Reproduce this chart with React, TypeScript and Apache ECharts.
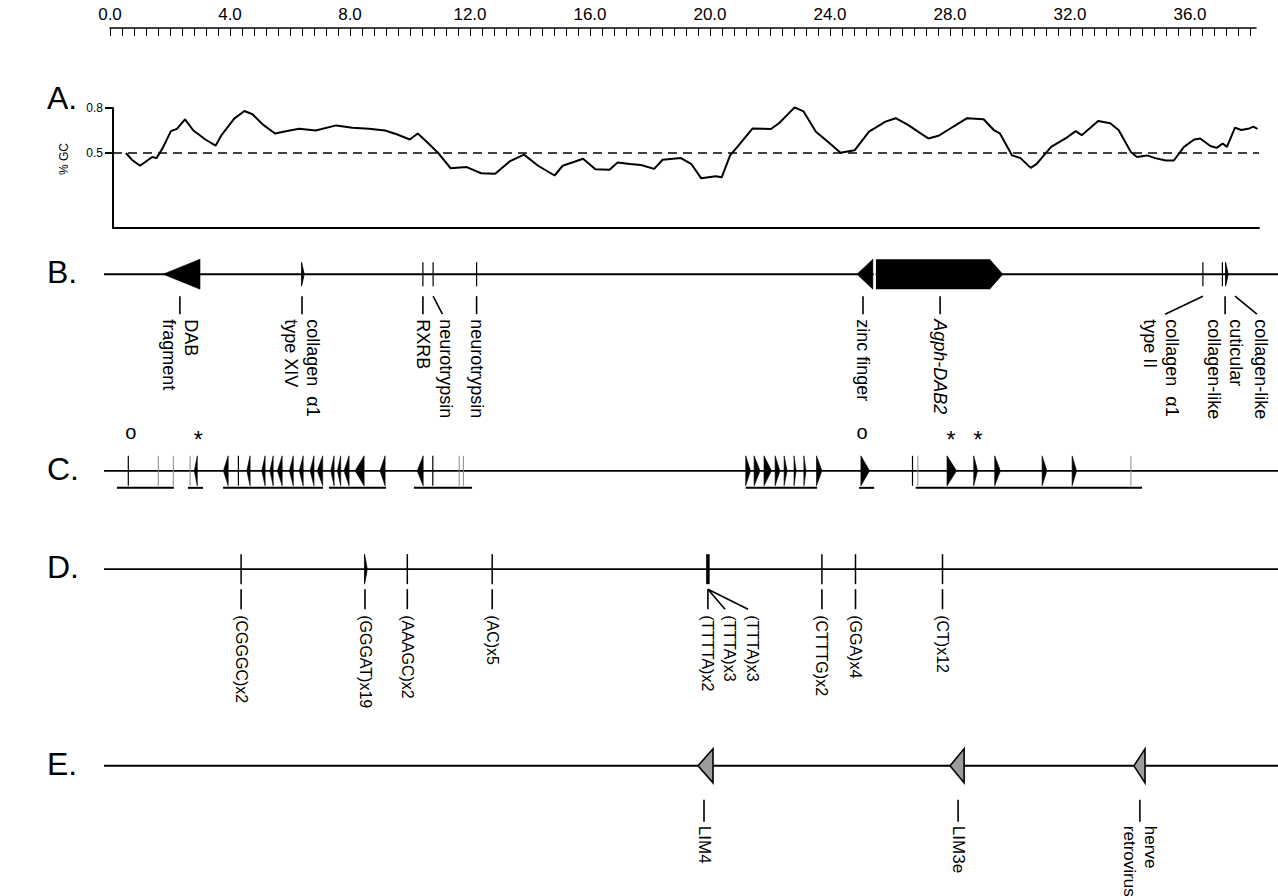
import React, { useEffect, useRef } from "react";
import * as echarts from "echarts";

const FONT = '"Liberation Sans", Arial, Helvetica, sans-serif';

// ---------- ruler (kb) ----------
const rulerLabels = [0, 4, 8, 12, 16, 20, 24, 28, 32, 36];
const rulerStep = 0.4;
const rulerMax = 38.2;

// ---------- Panel A: %GC ----------
const gcKb = [0.53, 0.73, 1.0, 1.28, 1.41, 1.55, 1.76, 2.03, 2.23, 2.5, 2.78, 3.18, 3.52, 3.73, 4.14, 4.48, 4.75, 5.09, 5.5, 5.9, 6.31, 6.86, 7.54, 8.08, 8.63, 9.17, 9.58, 9.99, 10.26, 10.6, 10.94, 11.35, 11.89, 12.37, 12.84, 13.32, 13.8, 14.27, 14.82, 15.09, 15.77, 16.18, 16.65, 16.92, 17.33, 17.7, 18.14, 18.42, 19.03, 19.37, 19.71, 20.19, 20.39, 20.67, 20.94, 21.42, 22.03, 22.3, 22.82, 23.12, 23.53, 23.94, 24.35, 24.82, 25.3, 25.85, 26.19, 26.6, 27.07, 27.28, 27.62, 28.57, 29.12, 29.46, 29.66, 30.07, 30.35, 30.69, 30.89, 31.37, 31.85, 32.19, 32.39, 32.94, 33.34, 33.62, 34.03, 34.23, 34.57, 34.84, 35.19, 35.46, 35.8, 36.14, 36.34, 36.68, 36.89, 37.09, 37.23, 37.5, 37.71, 37.98, 38.12, 38.25];
const gcValue = [0.5, 0.455, 0.415, 0.455, 0.473, 0.466, 0.534, 0.646, 0.661, 0.724, 0.65, 0.59, 0.549, 0.623, 0.729, 0.78, 0.758, 0.691, 0.63, 0.646, 0.661, 0.65, 0.684, 0.668, 0.661, 0.65, 0.623, 0.59, 0.63, 0.567, 0.5, 0.399, 0.406, 0.365, 0.361, 0.444, 0.489, 0.415, 0.35, 0.415, 0.462, 0.392, 0.388, 0.437, 0.426, 0.42, 0.394, 0.455, 0.466, 0.428, 0.331, 0.345, 0.338, 0.484, 0.547, 0.664, 0.66, 0.698, 0.804, 0.777, 0.642, 0.574, 0.502, 0.518, 0.642, 0.709, 0.732, 0.687, 0.624, 0.597, 0.615, 0.732, 0.725, 0.653, 0.631, 0.484, 0.466, 0.401, 0.428, 0.541, 0.597, 0.646, 0.619, 0.714, 0.698, 0.653, 0.507, 0.473, 0.484, 0.466, 0.45, 0.45, 0.541, 0.59, 0.597, 0.547, 0.534, 0.563, 0.541, 0.669, 0.653, 0.664, 0.676, 0.66];
const gcTickValues = [0.5, 0.8];
const gcThreshold = 0.5;

// ---------- tracks ----------
const trackNames = ["B.", "C.", "D.", "E."];
const trackLevels = [0, 2, 3, 5];
const trackSpan = [-0.2, 38.95];

// Panel B: genes / homologies  [start, end, strand]
const bArrows = [[1.77, 3.0, -1], [24.9, 25.43, -1]];
const bBlocks = [[25.53, 29.33, 29.77]];
const bTicks = [10.43, 10.77, 12.22, 36.43, 37.08];
const bLens = [6.4, 37.2];
const bLabels = [
  { at: 2.33, text: "DAB\nfragment" },
  { at: 6.4, text: "collagen  \u03b11\ntype XIV" },
  { at: 10.43, text: "RXRB" },
  { at: 10.77, to: 11.08, text: "neurotrypsin" },
  { at: 12.22, text: "neurotrypsin" },
  { at: 25.1, text: "zinc finger" },
  { at: 27.67, text: "Agph-DAB2", italic: true },
  { at: 36.43, to: 35.17, text: "collagen  \u03b11\ntype II" },
  { at: 37.17, text: "cuticular\ncollagen-like" },
  { at: 37.5, to: 38.23, text: "collagen-like" },
];

// Panel C: repeat units
const cArrows = [
  [2.81, 2.91, -1], [3.78, 3.94, -1], [4.56, 4.67, -1], [5.06, 5.17, -1], [5.33, 5.44, -1], [5.58, 5.74, -1],
  [5.98, 6.11, -1], [6.31, 6.44, -1], [6.67, 6.8, -1], [6.91, 7.09, -1], [7.36, 7.47, -1], [7.58, 7.69, -1],
  [7.8, 7.97, -1], [8.17, 8.47, -1], [9.0, 9.17, -1], [10.24, 10.44, -1],
  [21.19, 21.35, 1], [21.47, 21.67, 1], [21.8, 22.05, 1], [22.17, 22.33, 1], [22.47, 22.57, 1], [22.8, 22.87, 1],
  [23.13, 23.2, 1], [23.55, 23.73, 1], [25.03, 25.32, 1], [27.9, 28.22, 1], [28.79, 28.92, 1], [29.49, 29.68, 1],
  [31.07, 31.23, 1], [32.07, 32.22, 1],
];
const cTicks = [0.61, 4.28, 10.76, 26.75];
const cFaintTicks = [1.61, 2.11, 2.67, 11.64, 11.78, 26.93, 34.03];
const cSpans = [[0.23, 2.13], [2.6, 3.1], [3.77, 7.1], [7.3, 9.2], [10.13, 12.07], [21.19, 23.57], [24.97, 25.47], [26.86, 34.4]];
const cMarkers = [[0.69, "o"], [2.94, "*"], [25.07, "o"], [28.03, "*"], [28.93, "*"]];

// Panel D: simple sequence repeats
const dTicks = [4.37, 9.91, 12.74, 23.73, 24.85, 27.75];
const dBoldTicks = [19.93];
const dLens = [8.5];
const dLabels = [
  { at: 4.37, text: "(CGGGC)x2" },
  { at: 8.5, text: "(GGGAT)x19" },
  { at: 9.91, text: "(AAAGC)x2" },
  { at: 12.74, text: "(AC)x5" },
  { at: 19.93, text: "(TTTTA)x2" },
  { at: 19.93, to: 20.5, text: "(TTTA)x3" },
  { at: 19.93, to: 21.27, text: "(TTTA)x3" },
  { at: 23.73, text: "(CTTTG)x2" },
  { at: 24.85, text: "(GGA)x4" },
  { at: 27.75, text: "(CT)x12" },
];

// Panel E: interspersed repeats
const eArrows = [[19.6, 20.1, -1], [28.0, 28.47, -1], [34.13, 34.5, -1]];
const eLabels = [
  { at: 19.8, text: "LIM4" },
  { at: 28.27, text: "LIM3e" },
  { at: 34.33, text: "herve\nretrovirus" },
];

// ---------- styling per track (pixels) ----------
const geom = [
  { h: 15, tickH: 12, l1: 22, l2: 40, t: 45, font: 18, lh: 22 },
  { h: 15, tickH: 15 },
  { h: 15, tickH: 15, l1: 20, l2: 40, t: 46, font: 16, lh: 19 },
  { h: 17, tickH: 15, l1: 34, l2: 56, t: 60, font: 17, lh: 21 },
];

export default function App() {
  const ref = useRef<HTMLDivElement>(null);
  useEffect(() => {
    if (!ref.current) return;
    const chart = echarts.init(ref.current, null, { renderer: "svg" });

    const arrows: any[] = [];
    bArrows.forEach((a) => arrows.push({ track: 0, start: a[0], end: a[1], dir: a[2] }));
    cArrows.forEach((a) => arrows.push({ track: 1, start: a[0], end: a[1], dir: a[2] }));
    eArrows.forEach((a) => arrows.push({ track: 3, start: a[0], end: a[1], dir: a[2] }));

    const ticks: any[] = [];
    bTicks.forEach((v) => ticks.push({ track: 0, at: v, w: 1.2, c: "#000" }));
    cTicks.forEach((v) => ticks.push({ track: 1, at: v, w: 1.2, c: "#000" }));
    cFaintTicks.forEach((v) => ticks.push({ track: 1, at: v, w: 1, c: "#8a8a8a" }));
    dTicks.forEach((v) => ticks.push({ track: 2, at: v, w: 1.5, c: "#000" }));
    dBoldTicks.forEach((v) => ticks.push({ track: 2, at: v, w: 3.5, c: "#000" }));

    const lens: any[] = [];
    bLens.forEach((v) => lens.push({ track: 0, at: v }));
    dLens.forEach((v) => lens.push({ track: 2, at: v }));

    const labels: any[] = [];
    bLabels.forEach((l) => labels.push({ track: 0, ...l }));
    dLabels.forEach((l) => labels.push({ track: 2, ...l }));
    eLabels.forEach((l) => labels.push({ track: 3, ...l }));

    const tickValues: number[] = [];
    for (let i = 0; i * rulerStep <= rulerMax - 0.1; i++) tickValues.push(+(i * rulerStep).toFixed(1));

    const common = { coordinateSystem: "cartesian2d", xAxisIndex: 2, yAxisIndex: 2, clip: false, silent: true };

    chart.setOption({
      animation: false,
      backgroundColor: "#fff",
      textStyle: { fontFamily: FONT },
      grid: [
        { left: 110, top: 27, width: 30 * rulerMax, height: 1 },
        { left: 113, top: 108, width: 30 * (38.3 - 0.1), height: 120 },
        { left: 110, top: 225, width: 30 * rulerMax, height: 590 },
      ],
      xAxis: [
        {
          gridIndex: 0, type: "value", position: "top", min: 0, max: rulerMax,
          axisLine: { show: true, lineStyle: { color: "#000", width: 1.5 } },
          axisTick: { show: true, inside: true, length: 8, lineStyle: { color: "#000", width: 1 }, customValues: tickValues },
          axisLabel: { show: true, customValues: rulerLabels, formatter: (v: number) => v.toFixed(1), color: "#000", fontSize: 17, fontFamily: FONT, margin: 4 },
          splitLine: { show: false },
        },
        {
          gridIndex: 1, type: "value", min: 0.1, max: 38.3, position: "bottom",
          axisLine: { show: true, onZero: false, lineStyle: { color: "#000", width: 2 } },
          axisTick: { show: false }, axisLabel: { show: false }, splitLine: { show: false },
        },
        { gridIndex: 2, type: "value", min: 0, max: rulerMax, show: false },
      ],
      yAxis: [
        { gridIndex: 0, type: "value", show: false },
        {
          gridIndex: 1, type: "value", min: 0, max: 0.8,
          axisLine: { show: true, lineStyle: { color: "#000", width: 2 } },
          axisTick: { show: true, length: 8, customValues: gcTickValues, lineStyle: { color: "#000", width: 2 } },
          axisLabel: { show: true, customValues: gcTickValues, formatter: (v: number) => v.toFixed(1), color: "#000", fontSize: 12, fontFamily: FONT, margin: 10 },
          splitLine: { show: false },
        },
        { gridIndex: 2, type: "value", min: -0.5, max: 5.5, inverse: true, show: false },
      ],
      graphic: [
        { type: "text", x: 47, y: 98, style: { text: "A.", font: `32px ${FONT}`, fill: "#000", align: "left", verticalAlign: "middle" } },
        { type: "text", x: 64, y: 159, rotation: Math.PI / 2, style: { text: "% GC", font: `12px ${FONT}`, fill: "#000", align: "center", verticalAlign: "middle" } },
      ],
      series: [
        {
          type: "line", xAxisIndex: 1, yAxisIndex: 1, showSymbol: false, symbol: "none", clip: false,
          data: gcKb.map((k, i) => [k, gcValue[i]]),
          lineStyle: { color: "#000", width: 2 },
          markLine: {
            silent: true, symbol: "none", label: { show: false },
            lineStyle: { color: "#000", type: [9, 6], width: 1.6 },
            data: [{ yAxis: gcThreshold }],
          },
        },
        // track backbones + panel letters
        {
          type: "custom", ...common,
          data: trackLevels.map((lv) => [trackSpan[0], lv]),
          renderItem: (params: any, api: any) => {
            const i = params.dataIndex;
            const lv = trackLevels[i];
            const p0 = api.coord([trackSpan[0], lv]);
            const p1 = api.coord([trackSpan[1], lv]);
            return {
              type: "group",
              children: [
                { type: "line", shape: { x1: p0[0], y1: p0[1], x2: p1[0], y2: p1[1] }, style: { stroke: "#000", lineWidth: i === 0 || i === 3 ? 2 : 1.6 } },
                { type: "text", x: 47, y: p0[1] - 2, style: { text: trackNames[i], font: `32px ${FONT}`, fill: "#000", align: "left", verticalAlign: "middle" } },
              ],
            };
          },
        },
        // repeat spans (C underlines)
        {
          type: "custom", ...common,
          data: cSpans.map((s) => [s[0], trackLevels[1]]),
          renderItem: (params: any, api: any) => {
            const s = cSpans[params.dataIndex];
            const p0 = api.coord([s[0], trackLevels[1]]);
            const p1 = api.coord([s[1], trackLevels[1]]);
            return { type: "line", shape: { x1: p0[0], y1: p0[1] + 17, x2: p1[0], y2: p1[1] + 17 }, style: { stroke: "#000", lineWidth: 2 } };
          },
        },
        // ticks
        {
          type: "custom", ...common,
          data: ticks.map((t) => [t.at, trackLevels[t.track]]),
          renderItem: (params: any, api: any) => {
            const t = ticks[params.dataIndex];
            const p = api.coord([t.at, trackLevels[t.track]]);
            const h = geom[t.track].tickH;
            return { type: "line", shape: { x1: p[0], y1: p[1] - h, x2: p[0], y2: p[1] + h }, style: { stroke: t.c, lineWidth: t.w } };
          },
        },
        // lens-shaped marks
        {
          type: "custom", ...common,
          data: lens.map((t) => [t.at, trackLevels[t.track]]),
          renderItem: (params: any, api: any) => {
            const t = lens[params.dataIndex];
            const p = api.coord([t.at, trackLevels[t.track]]);
            const h = geom[t.track].tickH;
            return {
              type: "polygon",
              shape: { points: [[p[0] - 0.5, p[1] - h], [p[0] + 1.2, p[1] - h * 0.4], [p[0] + 2.2, p[1]], [p[0] + 1.2, p[1] + h * 0.4], [p[0] - 0.5, p[1] + h]] },
              style: { fill: "#000", stroke: "#000", lineWidth: 0.8 },
            };
          },
        },
        // arrows
        {
          type: "custom", ...common,
          data: arrows.map((a) => [a.start, trackLevels[a.track]]),
          renderItem: (params: any, api: any) => {
            const a = arrows[params.dataIndex];
            const lv = trackLevels[a.track];
            const p0 = api.coord([a.start, lv]);
            const p1 = api.coord([a.end, lv]);
            const h = geom[a.track].h;
            const y = p0[1];
            const pts = a.dir < 0
              ? [[p0[0], y], [p1[0], y - h], [p1[0], y + h]]
              : [[p0[0], y - h], [p1[0], y], [p0[0], y + h]];
            const grey = a.track === 3;
            return { type: "polygon", shape: { points: pts }, style: { fill: grey ? "#9c9c9c" : "#000", stroke: "#000", lineWidth: grey ? 1.6 : 0.6 } };
          },
        },
        // Agph-DAB2 block
        {
          type: "custom", ...common,
          data: bBlocks.map((b) => [b[0], trackLevels[0]]),
          renderItem: (params: any, api: any) => {
            const b = bBlocks[params.dataIndex];
            const lv = trackLevels[0];
            const p0 = api.coord([b[0], lv]);
            const p1 = api.coord([b[1], lv]);
            const p2 = api.coord([b[2], lv]);
            const h = geom[0].h;
            const y = p0[1];
            return {
              type: "group",
              children: [
                { type: "polygon", shape: { points: [[p0[0], y - h], [p1[0], y - h], [p2[0], y], [p1[0], y + h], [p0[0], y + h]] }, style: { fill: "#000" } },
                { type: "line", shape: { x1: p0[0] - 1.2, y1: y - h - 1, x2: p0[0] - 1.2, y2: y + h + 1 }, style: { stroke: "#fff", lineWidth: 2 } },
              ],
            };
          },
        },
        // C markers
        {
          type: "custom", ...common,
          data: cMarkers.map((m) => [m[0] as number, trackLevels[1]]),
          renderItem: (params: any, api: any) => {
            const m = cMarkers[params.dataIndex];
            const p = api.coord([m[0], trackLevels[1]]);
            const isStar = m[1] === "*";
            return {
              type: "text", x: p[0], y: p[1] + (isStar ? -31 : -39),
              style: { text: m[1] as string, font: `${isStar ? 23 : 20}px ${FONT}`, fill: "#000", align: "center", verticalAlign: "middle" },
            };
          },
        },
        // labels with leaders
        {
          type: "custom", ...common,
          data: labels.map((l) => [l.at, trackLevels[l.track]]),
          renderItem: (params: any, api: any) => {
            const l = labels[params.dataIndex];
            const g: any = geom[l.track];
            const lv = trackLevels[l.track];
            const p = api.coord([l.at, lv]);
            const q = api.coord([l.to !== undefined ? l.to : l.at, lv]);
            const dx = l.to !== undefined ? Math.sign(q[0] - p[0]) * 4 : 0;
            return {
              type: "group",
              children: [
                { type: "line", shape: { x1: p[0], y1: p[1] + g.l1, x2: q[0], y2: p[1] + g.l2 }, style: { stroke: "#000", lineWidth: 1.6 } },
                {
                  type: "text", x: q[0] + dx, y: p[1] + g.t, rotation: -Math.PI / 2,
                  style: {
                    text: l.text, font: `${l.italic ? "italic " : ""}${g.font}px ${FONT}`, lineHeight: g.lh,
                    fill: "#000", align: "left", verticalAlign: "middle",
                  },
                },
              ],
            };
          },
        },
      ],
    } as any);
    return () => chart.dispose();
  }, []);
  return <div ref={ref} style={{ position: "fixed", left: 0, top: 0, width: 1278, height: 896, background: "#fff" }} />;
}
